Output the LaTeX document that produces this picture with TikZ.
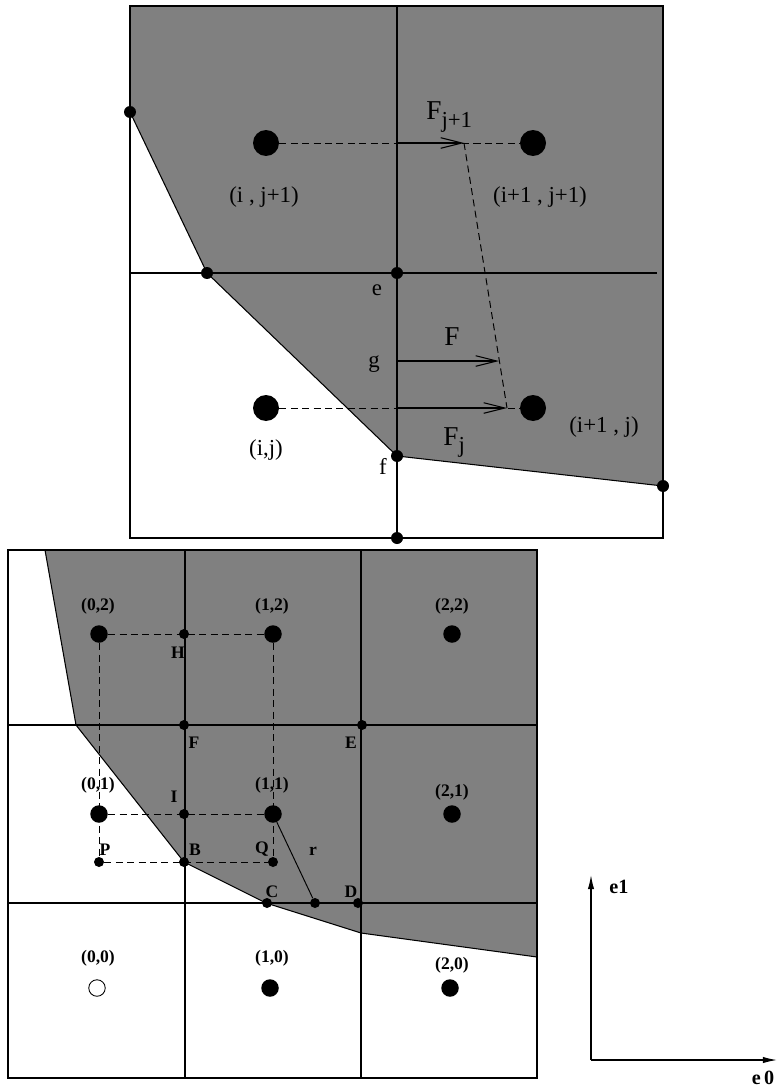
\documentclass[tikz,border=0pt]{standalone}
\usepackage{fontspec}
\setmainfont{Liberation Serif}
\usepackage{tikz}
\usetikzlibrary{arrows.meta,positioning}

\newcommand{\Fsub}[1]{F\raisebox{-4pt}{\fontsize{13}{13}\selectfont #1}}

\begin{document}
\begin{tikzpicture}[
  x=0.02cm, y=-0.02cm,
  grid/.style={draw=black, line width=0.7pt},
  region/.style={fill=black!50, draw=black, line width=0.6pt},
  link/.style={draw=black, line width=0.55pt, dash pattern=on 4pt off 2.5pt},
  flux/.style={-{Straight Barb[length=12pt,width=6pt,line width=0.6pt]}, line width=1.2pt},
  axis/.style={-{Latex[length=8pt,width=3.6pt]}, line width=0.7pt},
  bigdot/.style={circle, fill=black, inner sep=0pt, minimum size=0.52cm},
  smalldot/.style={circle, fill=black, inner sep=0pt, minimum size=0.24cm},
  celldot/.style={circle, fill=black, inner sep=0pt, minimum size=0.35cm},
  emptydot/.style={circle, draw=black, fill=white, line width=0.5pt, inner sep=0pt, minimum size=0.33cm},
  knot/.style={circle, fill=black, inner sep=0pt, minimum size=0.2cm},
  toplabel/.style={inner sep=0pt, font=\fontsize{13}{13}\selectfont},
  fluxlabel/.style={inner sep=0pt, font=\fontsize{15.5}{15.5}\selectfont},
  celllabel/.style={inner sep=0pt, font=\fontsize{10}{10}\selectfont\bfseries},
  axislabel/.style={inner sep=0pt, font=\fontsize{11.5}{11.5}\selectfont\bfseries}
]
\useasboundingbox (0,0) rectangle (777,1091);

\path[region] (130,6) -- (663,6) -- (663,486) -- (397,456) -- (207,273) -- (130,112) -- cycle;
\draw[grid] (130,6) rectangle (663,538);
\draw[grid] (397,6) -- (397,538);
\draw[grid] (130,273) -- (657,273);

\node[bigdot] (ij1) at (266,143) {};
\node[bigdot] (i1j1) at (533,143) {};
\node[bigdot] (ij) at (266,408) {};
\node[bigdot] (i1j) at (533,408) {};
\node[smalldot] (wallA) at (130,112) {};
\node[smalldot] (wallB) at (207,273) {};
\node[smalldot] (e) at (397,273) {};
\node[smalldot] (f) at (397,456) {};
\node[smalldot] (wallC) at (663,486) {};
\node[smalldot] (foot) at (397,538) {};

\coordinate (up0) at (397,143);
\coordinate (up1) at (464,143);
\coordinate (g) at (397,361);
\coordinate (mid1) at (499,361);
\coordinate (lo0) at (397,408);
\coordinate (lo1) at (507,408);

\draw[link] (ij1) -- (i1j1);
\draw[link] (ij) -- (i1j);
\draw[link] (up1) -- (lo1);
\draw[flux] (up0) -- (up1);
\draw[flux] (g) -- (mid1);
\draw[flux] (lo0) -- (lo1);

\node[fluxlabel, anchor=base west] (Fup) at (426,120) {\Fsub{j+1}};
\node[fluxlabel] (Fmid) at (452,337) {F};
\node[fluxlabel, anchor=base west] (Flo) at (443,445) {\Fsub{j}};
\node[toplabel] (lij1) at (264,197) {(i , j+1)};
\node[toplabel] (li1j1) at (540,197) {(i+1 , j+1)};
\node[toplabel] (lij) at (266,450) {(i,j)};
\node[toplabel] (li1j) at (604,427) {(i+1 , j)};
\node[toplabel] (le) at (377,290) {e};
\node[toplabel] (lg) at (374,364) {g};
\node[toplabel] (lf) at (383,466) {f};

\path[region] (45,550) -- (537,550) -- (537,957) -- (361,933) -- (266,903) -- (184,862) -- (76,725) -- cycle;
\draw[grid] (8,550) rectangle (537,1078);
\draw[grid] (185,550) -- (185,1078);
\draw[grid] (361,550) -- (361,1078);
\draw[grid] (8,725) -- (537,725);
\draw[grid] (8,903) -- (537,903);

\node[celldot] (c02) at (99,634) {};
\node[celldot] (c12) at (273,634) {};
\node[celldot] (c22) at (452,634) {};
\node[celldot] (c01) at (99,814) {};
\node[celldot] (c11) at (273,814) {};
\node[celldot] (c21) at (452,814) {};
\node[emptydot] (c00) at (97,988) {};
\node[celldot] (c10) at (270,988) {};
\node[celldot] (c20) at (450,988) {};

\node[knot] (H) at (184,634) {};
\node[knot] (F) at (184,725) {};
\node[knot] (E) at (362,725) {};
\node[knot] (I) at (184,814) {};
\node[knot] (P) at (99,862) {};
\node[knot] (B) at (184,862) {};
\node[knot] (Q) at (273,862) {};
\node[knot] (C) at (267,903) {};
\node[knot] (r) at (315,903) {};
\node[knot] (D) at (358,903) {};

\draw[link] (c02) -- (c12);
\draw[link] (c01) -- (c11);
\draw[link] (P) -- (Q);
\draw[link] (c02) -- (P);
\draw[link] (c12) -- (Q);
\draw[line width=0.55pt] (c11) -- (r);

\node[celllabel] (l02) at (98,606) {(0,2)};
\node[celllabel] (l12) at (272,606) {(1,2)};
\node[celllabel] (l22) at (452,606) {(2,2)};
\node[celllabel] (l01) at (98,785) {(0,1)};
\node[celllabel] (l11) at (272,785) {(1,1)};
\node[celllabel] (l21) at (452,792) {(2,1)};
\node[celllabel] (l00) at (98,958) {(0,0)};
\node[celllabel] (l10) at (272,958) {(1,0)};
\node[celllabel] (l20) at (452,965) {(2,0)};
\node[celllabel] (lH) at (178,653) {H};
\node[celllabel] (lF) at (194,743) {F};
\node[celllabel] (lE) at (351,743) {E};
\node[celllabel] (lI) at (174,797) {I};
\node[celllabel] (lP) at (105,850) {P};
\node[celllabel] (lB) at (195,850) {B};
\node[celllabel] (lQ) at (262,849) {Q};
\node[celllabel] (lr) at (313,851) {r};
\node[celllabel] (lC) at (272,892) {C};
\node[celllabel] (lD) at (351,892) {D};

\coordinate (o) at (591,1060);
\coordinate (e1tip) at (591,875);
\coordinate (e0tip) at (777,1060);
\draw[axis] (o) -- (e1tip);
\draw[axis] (o) -- (e0tip);
\node[axislabel] (le1) at (619,887) {e1};
\node[axislabel] (le0) at (763,1078) {e\,0};

\end{tikzpicture}
\end{document}
